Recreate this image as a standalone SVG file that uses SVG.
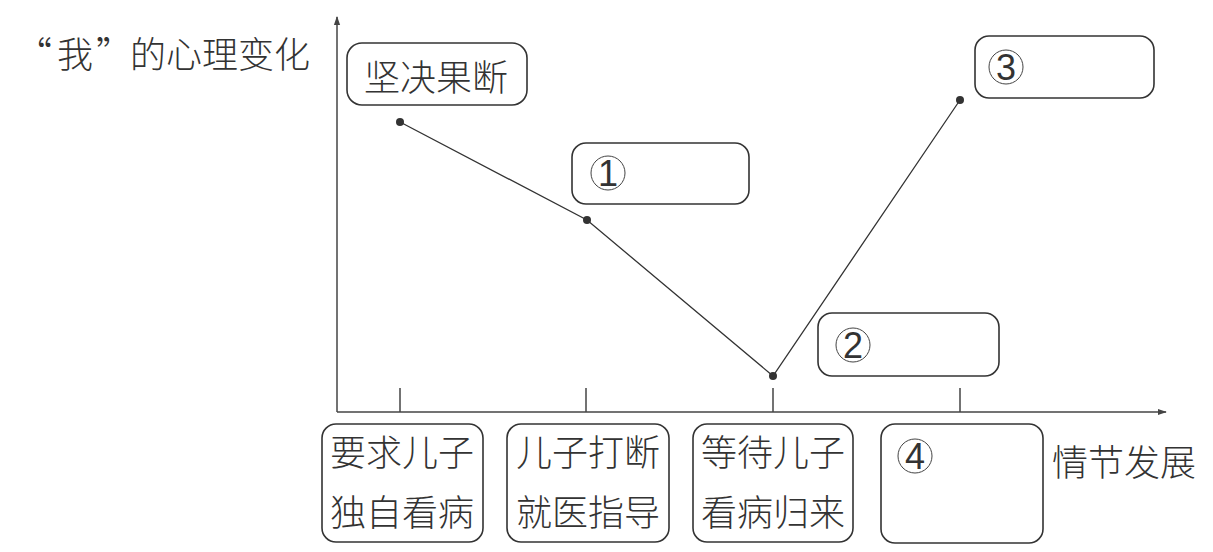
<svg xmlns="http://www.w3.org/2000/svg" width="1213" height="552" viewBox="0 0 1213 552">
<style>
.bg{fill:#fff}
.box{fill:none;stroke:#333;stroke-width:1.6}
.ax{fill:none;stroke:#444;stroke-width:1.5}
.ln{fill:none;stroke:#333;stroke-width:1.3}
.dot{fill:#333}
.t{font-family:"Noto Sans CJK SC","Noto Sans",sans-serif;font-size:36px;fill:#333;font-weight:300}
.num{font-family:"Liberation Sans","Noto Sans",sans-serif;font-size:36px;fill:#333;text-anchor:middle}
.cir{fill:none;stroke:#444;stroke-width:1}
</style>
<defs>
<marker id="arr" viewBox="0 0 10 10" refX="9" refY="5" markerWidth="9" markerHeight="9" markerUnits="userSpaceOnUse" orient="auto">
<path d="M0,1.5 L10,5 L0,8.5 Z" fill="#444"/>
</marker>
</defs>
<rect class="bg" x="0" y="0" width="1213" height="552"/>
<g id="axes">
<line class="ax" x1="337" y1="412" x2="337" y2="17" marker-end="url(#arr)"/>
<line class="ax" x1="337" y1="412" x2="1166" y2="412" marker-end="url(#arr)"/>
<line class="ax" x1="400" y1="388" x2="400" y2="412"/>
<line class="ax" x1="586" y1="388" x2="586" y2="412"/>
<line class="ax" x1="773" y1="388" x2="773" y2="412"/>
<line class="ax" x1="960" y1="388" x2="960" y2="412"/>
</g>
<g id="axis-labels">
<text class="t" y="68"><tspan x="16">“</tspan><tspan x="57">我</tspan><tspan x="96">”</tspan><tspan x="130">的心理变化</tspan></text>
<text class="t" x="1052" y="476">情节发展</text>
</g>
<g id="connectors">
<polyline class="ln" points="400,122 587,220 773,376 960,100"/>
<circle class="dot" cx="400" cy="122" r="4"/>
<circle class="dot" cx="587" cy="220" r="4"/>
<circle class="dot" cx="773" cy="376" r="4"/>
<circle class="dot" cx="960" cy="100" r="4"/>
</g>
<g id="node-jianjue">
<rect class="box" x="347" y="43" width="180" height="62" rx="15"/>
<text class="t" x="364" y="91">坚决果断</text>
</g>
<g id="node-1">
<rect class="box" x="572" y="143" width="177" height="61" rx="14"/>
<circle class="cir" cx="608" cy="173" r="17"/>
<text class="num" x="608" y="186">1</text>
</g>
<g id="node-2">
<rect class="box" x="818" y="313" width="181" height="63" rx="14"/>
<circle class="cir" cx="853" cy="345" r="17"/>
<text class="num" x="853" y="358">2</text>
</g>
<g id="node-3">
<rect class="box" x="975" y="36" width="179" height="62" rx="14"/>
<circle class="cir" cx="1006" cy="67" r="17"/>
<text class="num" x="1006" y="80">3</text>
</g>
<g id="node-a">
<rect class="box" x="322" y="424" width="161" height="118" rx="14"/>
<text class="t" x="330" y="466">要求儿子</text>
<text class="t" x="330" y="526">独自看病</text>
</g>
<g id="node-b">
<rect class="box" x="507" y="424" width="162" height="118" rx="14"/>
<text class="t" x="516" y="466">儿子打断</text>
<text class="t" x="516" y="526">就医指导</text>
</g>
<g id="node-c">
<rect class="box" x="693" y="424" width="160" height="118" rx="14"/>
<text class="t" x="701" y="466">等待儿子</text>
<text class="t" x="701" y="526">看病归来</text>
</g>
<g id="node-d">
<rect class="box" x="881" y="424" width="162" height="119" rx="14"/>
<circle class="cir" cx="915" cy="456" r="17"/>
<text class="num" x="915" y="469">4</text>
</g>
</svg>
